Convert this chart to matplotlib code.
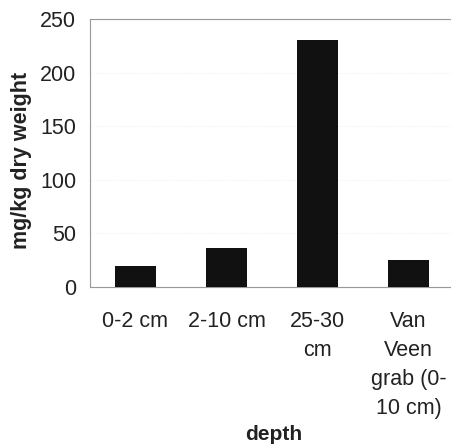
import matplotlib.pyplot as plt

# depth classes and concentration (mg/kg dry weight)
depths = ["0-2 cm", "2-10 cm", "25-30\ncm", "Van\nVeen\ngrab (0-\n10 cm)"]
values = [20, 36, 230, 25]

plt.rcParams['font.family'] = ['Liberation Sans', 'DejaVu Sans']

fig = plt.figure(figsize=(4.52, 4.44), dpi=100)
ax = fig.add_axes([90 / 452, 1 - 287 / 444, 364 / 452, 268 / 444])

ax.bar(range(len(depths)), values, width=0.44, color='#111111', zorder=3)

ax.set_xlim(-0.5, 3.5)
ax.set_ylim(0, 250)
ax.set_yticks([0, 50, 100, 150, 200, 250])
ax.set_xticks(range(len(depths)))
ax.set_xticklabels(depths, linespacing=1.5)
ax.tick_params(length=0, labelsize=15.5, colors='#222222')
ax.tick_params(axis='y', pad=10)
ax.tick_params(axis='x', pad=17.5)
ax.yaxis.grid(True, color='#f0f0f0', linewidth=0.8, linestyle=':', zorder=0)

for s in ax.spines.values():
    s.set_color('#999999')
    s.set_linewidth(0.8)
    s.set_linestyle((0, (1, 0.5)))

ax.set_ylabel('mg/kg dry weight', fontsize=15.5, fontweight='bold', color='#222222', va='center')
ax.yaxis.set_label_coords(-68 / 364, 0.472)
ax.set_xlabel('depth', fontsize=15, fontweight='bold', color='#222222', va='center')
ax.xaxis.set_label_coords((274 - 90) / 364, -(435 - 287) / 268)

fig.savefig('out.png', dpi=100)
